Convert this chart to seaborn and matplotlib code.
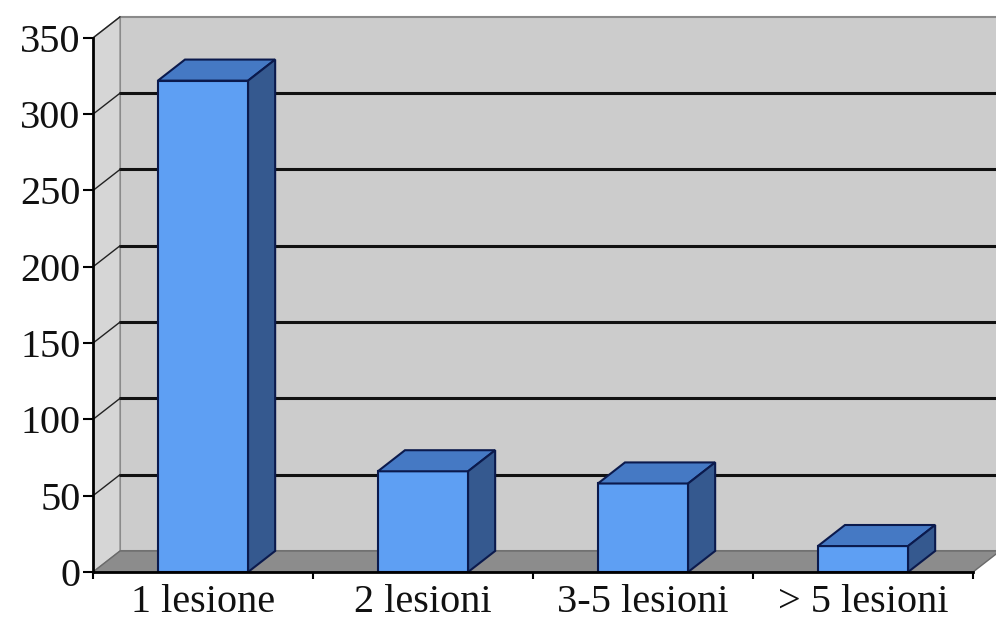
import numpy as np
import matplotlib
matplotlib.use("Agg")
import matplotlib.pyplot as plt
import seaborn as sns
from matplotlib.patches import Polygon

# data
categories = ["1 lesione", "2 lesioni", "3-5 lesioni", "> 5 lesioni"]
counts = [322, 66, 58, 17]
yticks = [0, 50, 100, 150, 200, 250, 300, 350]

# fake 3d depth (category units, value units)
DX = 0.123
DY = 13.8
YMAX = 350

FRONT = "#5e9ff3"
TOP = "#4579c4"
SIDE = "#35598f"
EDGE = "#0b1a4d"

sns.set_theme(style="white")
plt.rcParams["font.family"] = ["Liberation Serif", "DejaVu Serif"]

fig = plt.figure(figsize=(9.96, 6.2), dpi=100)
ax = fig.add_axes([93 / 996, 48 / 620, 903 / 996, 558 / 620])
ax.set_facecolor("white")

x0, x1 = -0.5, len(categories) - 0.5

# back wall
ax.add_patch(Polygon([(x0 + DX, DY), (x1 + DX, DY), (x1 + DX, YMAX + DY), (x0 + DX, YMAX + DY)],
                     closed=True, facecolor="#cccccc", edgecolor="#8a8a8a", lw=1.5, zorder=0))
# left side wall
ax.add_patch(Polygon([(x0, 0), (x0 + DX, DY), (x0 + DX, YMAX + DY), (x0, YMAX)],
                     closed=True, facecolor="#d6d6d6", edgecolor="#8a8a8a", lw=1, zorder=0))
# floor
ax.add_patch(Polygon([(x0, 0), (x1, 0), (x1 + DX, DY), (x0 + DX, DY)],
                     closed=True, facecolor="#8c8c8c", edgecolor="#6a6a6a", lw=1, zorder=0.5))

# gridlines on the back wall + slanted ones on the side wall
for v in yticks[1:-1]:
    ax.plot([x0 + DX, x1 + DX], [v + DY, v + DY], color="#111111", lw=2.2, zorder=1)
for v in yticks[1:]:
    ax.plot([x0, x0 + DX], [v, v + DY], color="#222222", lw=1, zorder=1)

sns.barplot(x=categories, y=counts, ax=ax, width=0.41, color=FRONT,
            edgecolor=EDGE, linewidth=1.5, saturation=1, zorder=3)

# top and side faces of each bar
for p in list(ax.patches):
    if not hasattr(p, "get_width"):
        continue
    bx, bw, bh = p.get_x(), p.get_width(), p.get_height()
    top = [(bx, bh), (bx + bw, bh), (bx + bw + DX, bh + DY), (bx + DX, bh + DY)]
    side = [(bx + bw, 0), (bx + bw + DX, DY), (bx + bw + DX, bh + DY), (bx + bw, bh)]
    ax.add_patch(Polygon(top, closed=True, facecolor=TOP, edgecolor=EDGE, lw=1.5, zorder=3))
    ax.add_patch(Polygon(side, closed=True, facecolor=SIDE, edgecolor=EDGE, lw=1.5, zorder=3))

ax.set_xlim(x0, x0 + 903 / 220)
ax.set_ylim(0, 558 / 1.526)

for s in ["top", "right"]:
    ax.spines[s].set_visible(False)
ax.spines["left"].set_bounds(0, YMAX)
ax.spines["bottom"].set_bounds(x0, x1)
for s in ["left", "bottom"]:
    ax.spines[s].set_color("black")
    ax.spines[s].set_linewidth(2)
    ax.spines[s].set_zorder(4)

ax.set_yticks(yticks)
ax.set_xticks(range(len(categories)))
ax.set_xticklabels(categories)
ax.set_xticks(np.arange(x0, x1 + 0.01, 1), minor=True)
ax.tick_params(axis="y", direction="out", length=7, width=1.5, color="black",
               labelsize=29, pad=2, left=True)
ax.tick_params(axis="x", which="major", length=0, labelsize=29, pad=9)
ax.tick_params(axis="x", which="minor", direction="out", length=5, width=1.5,
               color="black", bottom=True)
ax.set_xlabel("")
ax.set_ylabel("")
for lab in ax.get_yticklabels() + ax.get_xticklabels():
    lab.set_color("#111111")

fig.savefig("out.png", dpi=100, facecolor="white")
